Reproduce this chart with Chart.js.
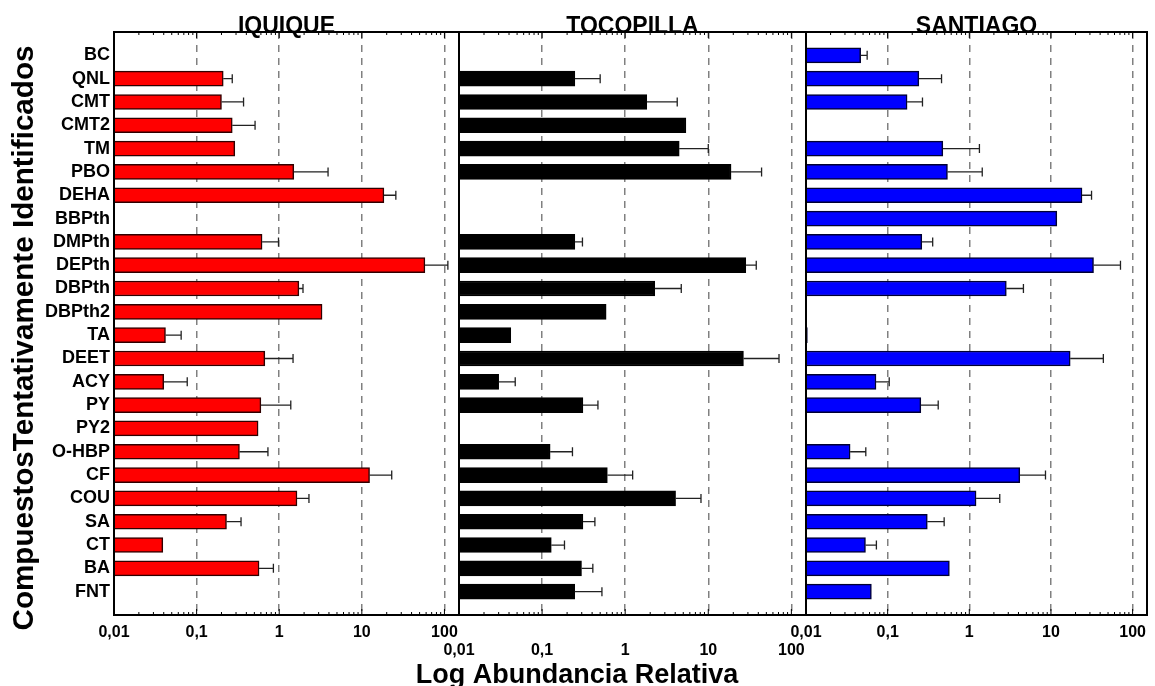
<!DOCTYPE html>
<html>
<head>
<meta charset="utf-8">
<script src="https://cdn.jsdelivr.net/npm/chart.js@4.4.1/dist/chart.umd.min.js"></script>
<style>
  html, body { margin: 0; padding: 0; background: #fff; }
  #wrap { position: relative; width: 1155px; height: 686px; background: #fff; }
  canvas { position: absolute; left: 0; top: 0; }
</style>
</head>
<body>
<div id="wrap">
  <canvas id="c1" width="1155" height="686"></canvas>
  <canvas id="c2" width="1155" height="686"></canvas>
  <canvas id="c3" width="1155" height="686"></canvas>
</div>
<script>
// datos
const compuestos = ['BC', 'QNL', 'CMT', 'CMT2', 'TM', 'PBO', 'DEHA', 'BBPth', 'DMPth', 'DEPth', 'DBPth', 'DBPth2',
    'TA', 'DEET', 'ACY', 'PY', 'PY2', 'O-HBP', 'CF', 'COU', 'SA', 'CT', 'BA', 'FNT'];

const iquique = [null, 0.21, 0.20, 0.27, 0.29, 1.5, 18.5, null, 0.62, 58, 1.73, 3.3,
    0.042, 0.67, 0.040, 0.60, 0.555, 0.33, 12.4, 1.64, 0.23, 0.039, 0.57, null];
const iquiqueErr = [null, 0.27, 0.37, 0.51, null, 3.9, 25.8, null, 0.98, 110, 1.94, null,
    0.065, 1.47, 0.077, 1.38, null, 0.73, 23, 2.29, 0.345, null, 0.85, null];

const tocopilla = [null, 0.248, 1.82, 5.38, 4.47, 18.8, null, null, 0.248, 28.3, 2.27, 0.59,
    0.042, 26.5, 0.030, 0.31, null, 0.125, 0.61, 4.04, 0.31, 0.129, 0.298, 0.247];
const tocopillaErr = [null, 0.50, 4.23, null, 10.0, 43.8, null, null, 0.306, 37.8, 4.73, null,
    null, 71, 0.0475, 0.47, null, 0.232, 1.23, 8.17, 0.432, 0.186, 0.408, 0.525];

const santiago = [0.0467, 0.241, 0.173, null, 0.474, 0.54, 24, 11.8, 0.262, 33.2, 2.84, null,
    0.0104, 17.2, 0.072, 0.255, null, 0.0347, 4.15, 1.21, 0.306, 0.0535, 0.57, 0.0632];
const santiagoErr = [0.0561, 0.457, 0.267, null, 1.33, 1.44, 31.4, null, 0.356, 71, 4.6, null,
    null, 43.8, 0.1045, 0.416, null, 0.054, 8.57, 2.36, 0.492, 0.0728, null, null];

const decadas = [0.01, 0.1, 1, 10, 100];
const etiquetasX = ['0,01', '0,1', '1', '10', '100'];
const xMin = 0.01, xMax = 150;

Chart.defaults.font.family = '"Liberation Sans", Arial, sans-serif';
Chart.defaults.color = '#000';

const decadeIndex = v => decadas.findIndex(d => Math.abs(v / d - 1) < 1e-6);

// barras de error, marco, ticks menores y titulos
const panelPlugin = {
    id: 'panel',
    afterDatasetsDraw(chart, args, opts) {
        const ctx = chart.ctx;
        const meta = chart.getDatasetMeta(0);
        const xs = chart.scales.x;
        ctx.save();
        ctx.strokeStyle = '#222';
        ctx.lineWidth = 1.3;
        opts.errors.forEach((e, i) => {
            if (e == null) return;
            const bar = meta.data[i];
            const x1 = xs.getPixelForValue(e);
            ctx.beginPath();
            ctx.moveTo(bar.x, bar.y);
            ctx.lineTo(x1, bar.y);
            ctx.moveTo(x1, bar.y - 4.5);
            ctx.lineTo(x1, bar.y + 4.5);
            ctx.stroke();
        });
        ctx.restore();
    },
    afterDraw(chart, args, opts) {
        const ctx = chart.ctx;
        const {left, right, top, bottom} = chart.chartArea;
        const xs = chart.scales.x;
        ctx.save();
        // ticks menores
        ctx.strokeStyle = '#000';
        ctx.lineWidth = 1;
        for (let k = -2; k <= 2; k++) {
            for (let m = 1; m <= 9; m++) {
                const v = m * Math.pow(10, k);
                if (v <= xMin || v >= xMax) continue;
                const px = xs.getPixelForValue(v);
                const len = m === 1 ? 6 : 3;
                ctx.beginPath();
                ctx.moveTo(px, top); ctx.lineTo(px, top + len);
                ctx.moveTo(px, bottom); ctx.lineTo(px, bottom - len);
                ctx.stroke();
            }
        }
        // titulo del panel
        ctx.fillStyle = '#000';
        ctx.font = 'bold 23px "Liberation Sans", Arial, sans-serif';
        ctx.textAlign = 'center';
        ctx.textBaseline = 'alphabetic';
        ctx.fillText(opts.title, (left + right) / 2, top + 1);
        // marco
        ctx.lineWidth = 2;
        ctx.strokeRect(left, top, right - left, bottom - top);
        // titulos de ejes (solo en el primer panel)
        if (opts.axisTitles) {
            ctx.font = 'bold 27px "Liberation Sans", Arial, sans-serif';
            ctx.fillText('Log Abundancia Relativa', 577, 683);
            ctx.translate(33, 338);
            ctx.rotate(-Math.PI / 2);
            ctx.font = 'bold 29.6px "Liberation Sans", Arial, sans-serif';
            ctx.fillText('CompuestosTentativamente Identificados', 0, 0);
        }
        ctx.restore();
    }
};

const pad = arr => [null, ...arr, null];

// chartArea: top 32, bottom 615
const makePanel = (id, title, values, errors, fill, border, area, labelPad, showY) => {
    const ctx = document.getElementById(id).getContext('2d');
    const axisH = labelPad + 30;
    return new Chart(ctx, {
        type: 'bar',
        data: {
            labels: ['', ...compuestos, ''],
            datasets: [{
                data: pad(values),
                backgroundColor: fill,
                borderColor: border,
                borderWidth: 1.5,
                barThickness: 15
            }]
        },
        plugins: [panelPlugin],
        options: {
            indexAxis: 'y',
            responsive: false,
            animation: false,
            layout: {
                padding: {left: showY ? 0 : area.left, right: 1155 - area.right, top: 32, bottom: 686 - 615 - axisH}
            },
            plugins: {
                legend: {display: false},
                tooltip: {enabled: false},
                panel: {title: title, errors: pad(errors), axisTitles: showY}
            },
            scales: {
                y: {
                    type: 'category',
                    display: showY,
                    offset: false,
                    grid: {display: false, drawTicks: false},
                    border: {display: false},
                    ticks: {
                        autoSkip: false,
                        padding: 4,
                        font: {size: 18, weight: 'bold'},
                        color: '#000'
                    },
                    afterFit: s => { s.width = showY ? area.left : 0; }
                },
                x: {
                    type: 'logarithmic',
                    min: xMin,
                    max: xMax,
                    grid: {
                        drawTicks: false,
                        lineWidth: 1.5,
                        borderDash: [7, 6],
                        color: c => (c.tick && decadeIndex(c.tick.value) > 0) ? '#808080' : 'rgba(0,0,0,0)'
                    },
                    border: {display: false, dash: [7, 6]},
                    ticks: {
                        autoSkip: false,
                        maxRotation: 0,
                        padding: labelPad,
                        font: {size: 16, weight: 'bold'},
                        color: '#000',
                        callback: v => {
                            const i = decadeIndex(v);
                            return i >= 0 ? etiquetasX[i] : '';
                        }
                    },
                    afterFit: s => { s.height = axisH; }
                }
            }
        }
    });
};

makePanel('c1', 'IQUIQUE', iquique, iquiqueErr, '#ff0000', '#300000', {left: 114, right: 459}, 8, true);
makePanel('c2', 'TOCOPILLA', tocopilla, tocopillaErr, '#000000', '#000000', {left: 459, right: 806}, 26, false);
makePanel('c3', 'SANTIAGO', santiago, santiagoErr, '#0000ff', '#000033', {left: 806, right: 1150}, 8, false);
</script>
</body>
</html>
